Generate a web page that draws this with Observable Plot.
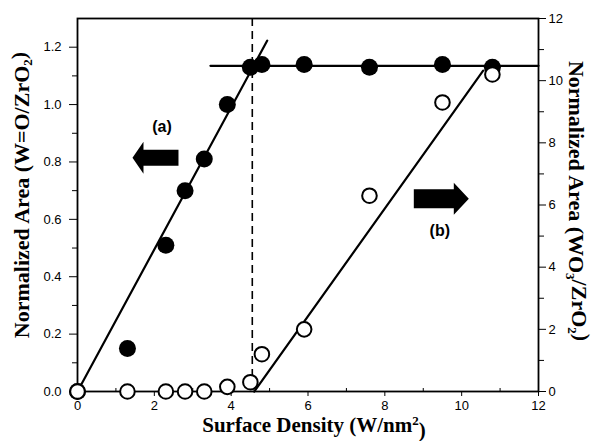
<!DOCTYPE html>
<html>
<head>
<meta charset="utf-8">
<script src="https://cdn.jsdelivr.net/npm/d3@7"></script>
<script src="https://cdn.jsdelivr.net/npm/@observablehq/plot@0.6"></script>
<style>
  body { margin: 0; background: #fff; }
</style>
</head>
<body>
<div id="chart"></div>
<script>
// Surface density of W (W/nm^2) for each sample
const surfaceDensity = [0, 1.3, 2.3, 2.8, 3.3, 3.9, 4.5, 4.8, 5.9, 7.6, 9.5, 10.8];
// (a) normalized W=O band area (left axis)
const wOxoArea = [0, 0.15, 0.51, 0.70, 0.81, 1.00, 1.13, 1.14, 1.14, 1.13, 1.14, 1.13];
// (b) normalized crystalline WO3 band area (right axis)
const wo3Area = [0, 0, 0, 0, 0, 0.15, 0.30, 1.2, 2.0, 6.3, 9.3, 10.2];

// Axis ticks
const xTicks = [0, 2, 4, 6, 8, 10, 12];
const xMinorTicks = [1, 3, 5, 7, 9, 11];
const leftTicks = [0, 0.2, 0.4, 0.6, 0.8, 1.0, 1.2];
const leftMinorTicks = [0.1, 0.3, 0.5, 0.7, 0.9, 1.1];
const rightTicks = [0, 2, 4, 6, 8, 10, 12];
const rightMinorTicks = [1, 3, 5, 7, 9, 11];

// Linear trends
const trendA = {x: [0, 4.94], y: [0, 1.223]};        // rise of W=O (left units)
const plateauA = {x: [3.46, 12], y: [1.135, 1.135]}; // monolayer plateau (left units)
const trendB = {x: [4.6, 10.56], y: [0, 10.32]};     // WO3 growth (right units)
const monolayer = [4.55];                            // dashed boundary

// Annotations
const seriesTags = [
  {text: "(a)", x: 2.2, y: 0.923},
  {text: "(b)", x: 9.43, y: 0.561}
];
const arrows = [
  {x: 2.03, y: 0.815, dir: -1, len: 46, head: 11, headHalf: 16, bodyHalf: 8},
  {x: 9.47, y: 0.672, dir: 1, len: 55, head: 15, headHalf: 16, bodyHalf: 9.5}
];

const leftMax = 1.3, rightMax = 12;
const toLeft = v => v * leftMax / rightMax;

// Block arrow drawn as a custom symbol centred on its point
function blockArrow(a) {
  return {
    draw(ctx) {
      const s = a.dir, L = a.len / 2, h = a.head;
      const tip = s * L, base = s * (L - h), tail = -s * L;
      ctx.moveTo(tip, 0);
      ctx.lineTo(base, -a.headHalf);
      ctx.lineTo(base, -a.bodyHalf);
      ctx.lineTo(tail, -a.bodyHalf);
      ctx.lineTo(tail, a.bodyHalf);
      ctx.lineTo(base, a.bodyHalf);
      ctx.lineTo(base, a.headHalf);
      ctx.closePath();
    }
  };
}

const pointsA = surfaceDensity.map((x, i) => ({x, y: wOxoArea[i]}));
const pointsB = surfaceDensity.map((x, i) => ({x, y: toLeft(wo3Area[i])}));
const lineOf = t => t.x.map((x, i) => ({x, y: t.y[i]}));

const titleLeft = ["Normalized Area (W=O/ZrO", "2", ")"];
const titleRight = ["Normalized Area (WO", "3", "/ZrO", "2", ")"];
const titleBottom = ["Surface Density (W/nm", "2", ")"];
const serif = "'Liberation Serif', 'Times New Roman', serif";

const chart = Plot.plot({
  width: 596,
  height: 441,
  marginLeft: 77,
  marginRight: 58,
  marginTop: 18,
  marginBottom: 50,
  style: {fontFamily: "'Liberation Sans', Arial, sans-serif", fontSize: "13px", color: "#000", background: "#fff"},
  x: {domain: [0, 12]},
  y: {domain: [0, leftMax]},
  marks: [
    Plot.axisX(xTicks, {tickSize: 5, tickPadding: 4, tickFormat: d => String(d), label: null, fontSize: 13}),
    Plot.axisX(xMinorTicks, {tickSize: -3, tickFormat: () => "", label: null}),
    Plot.axisY(leftTicks, {anchor: "left", tickSize: 8, tickPadding: 8, tickFormat: d3.format(".1f"), label: null, fontSize: 13}),
    Plot.axisY(leftMinorTicks, {anchor: "left", tickSize: 5, tickFormat: () => "", label: null}),
    Plot.axisY(rightTicks.map(toLeft), {anchor: "right", tickSize: 7, tickPadding: 3, tickFormat: d => String(Math.round(d * rightMax / leftMax)), label: null, fontSize: 13}),
    Plot.axisY(rightMinorTicks.map(toLeft), {anchor: "right", tickSize: 5, tickFormat: () => "", label: null}),
    Plot.frame({stroke: "#000", strokeWidth: 1.8}),
    Plot.ruleX(monolayer, {stroke: "#000", strokeWidth: 1.6, strokeDasharray: "8,5"}),
    Plot.line(lineOf(trendA), {x: "x", y: "y", stroke: "#000", strokeWidth: 2.2}),
    Plot.line(lineOf(plateauA), {x: "x", y: "y", stroke: "#000", strokeWidth: 2.2}),
    Plot.line(lineOf({x: trendB.x, y: trendB.y.map(toLeft)}), {x: "x", y: "y", stroke: "#000", strokeWidth: 2.2}),
    Plot.dot(pointsA, {x: "x", y: "y", r: 8.5, fill: "#000", stroke: "none"}),
    Plot.dot(pointsB, {x: "x", y: "y", r: 7.3, fill: "#fff", stroke: "#000", strokeWidth: 2}),
    ...arrows.map(a => Plot.dot([a], {x: "x", y: "y", symbol: blockArrow(a), r: 10, fill: "#000", stroke: "none"})),
    Plot.text(seriesTags, {x: "x", y: "y", text: "text", fontWeight: "bold", fontSize: 16, fill: "#000"}),
    Plot.text([titleLeft.join("")], {frameAnchor: "left", textAnchor: "middle", lineAnchor: "middle", rotate: -90, dx: -56, dy: -10, fontFamily: serif, fontWeight: "bold", fontSize: 22, fill: "#000", className: "title-left"}),
    Plot.text([titleRight.join("")], {frameAnchor: "right", textAnchor: "middle", lineAnchor: "middle", rotate: 90, dx: 38, dy: -4, fontFamily: serif, fontWeight: "bold", fontSize: 22, fill: "#000", className: "title-right"}),
    Plot.text([titleBottom.join("")], {frameAnchor: "bottom", textAnchor: "middle", lineAnchor: "middle", dx: 6, dy: 34, fontFamily: serif, fontWeight: "bold", fontSize: 21, fill: "#000", className: "title-bottom"})
  ]
});

// Rebuild axis titles with raised / lowered index digits
function setRichText(cls, parts, kinds) {
  const t = d3.select(chart).select(`g.${cls} text`);
  t.text(null);
  parts.forEach((p, i) => {
    const k = kinds[i];
    const span = t.append("tspan").text(p);
    if (k === "sub") span.attr("dy", "0.3em").attr("font-size", "13px");
    else if (k === "sup") span.attr("dy", "-0.55em").attr("font-size", "13px");
    else if (i > 0 && kinds[i - 1] === "sub") span.attr("dy", "-0.3em");
    else if (i > 0 && kinds[i - 1] === "sup") span.attr("dy", "0.55em");
  });
}
setRichText("title-left", titleLeft, ["", "sub", ""]);
setRichText("title-right", titleRight, ["", "sub", "", "sub", ""]);
setRichText("title-bottom", titleBottom, ["", "sup", ""]);

document.getElementById("chart").append(chart);
</script>
</body>
</html>
